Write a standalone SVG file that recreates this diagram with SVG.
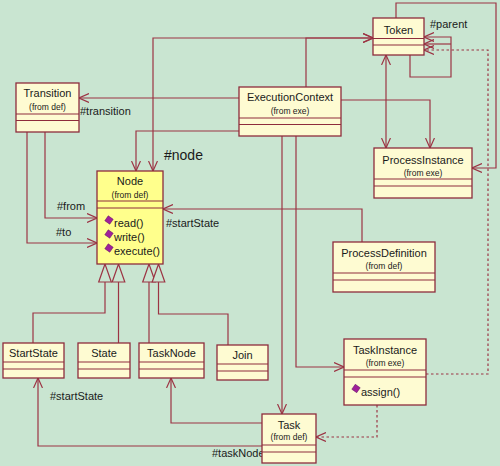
<svg xmlns="http://www.w3.org/2000/svg" width="500" height="466" viewBox="0 0 500 466">
<defs>
<style>
.box{fill:#fefbd2;stroke:#8e2c3c;stroke-width:1.3}
.node{fill:#ffff8c;stroke:#8e2c3c;stroke-width:1.3}
.sep{stroke:#8e2c3c;stroke-width:1.2}
.c{fill:none;stroke:#9c3444;stroke-width:1.2}
.d{fill:none;stroke:#9c3444;stroke-width:1.2;stroke-dasharray:2.5,2.5}
.tri{fill:#c9e5d1;stroke:#9c3444;stroke-width:1.2}
text{font-family:"Liberation Sans",Arial,sans-serif;fill:#1a1a1a}
.n{font-size:11px;text-anchor:middle}
.s{font-size:8.5px;text-anchor:middle}
.l{font-size:11px}
.m{font-size:11px}
.dia{fill:#a0209a;stroke:#601060;stroke-width:0.5}
</style>
<marker id="a" viewBox="0 0 10 10" refX="10" refY="5" markerWidth="10" markerHeight="10" markerUnits="userSpaceOnUse" orient="auto-start-reverse">
<path d="M0,0.5 L10,5 L0,9.5" fill="none" stroke="#9c3444" stroke-width="1.2"/>
</marker>
</defs>
<rect width="500" height="466" fill="#c9e5d1"/>
<g id="connectors">
<path class="c" d="M239,98 H79" marker-end="url(#a)"/>
<path class="c" d="M153,171 V38 H373" marker-start="url(#a)" marker-end="url(#a)"/>
<path class="c" d="M306,87 V38 H373" marker-end="url(#a)"/>
<path class="c" d="M239,131 H136 V171" marker-end="url(#a)"/>
<path class="c" d="M45,132 V218 H97" marker-end="url(#a)"/>
<path class="c" d="M27,132 V243 H97" marker-end="url(#a)"/>
<path class="c" d="M362,242 V209 H163" marker-end="url(#a)"/>
<path class="c" d="M341,100 H430 V148" marker-end="url(#a)"/>
<path class="c" d="M386,55 V148" marker-start="url(#a)" marker-end="url(#a)"/>
<path class="c" d="M396,18 V3 H496 V168 H472" marker-end="url(#a)"/>
<path class="c" d="M410,55 V77 H451 V37 H424" marker-end="url(#a)"/>
<path class="c" d="M451,44 H424" marker-end="url(#a)"/>
<path class="d" d="M426,374 H488 V50 H424" marker-end="url(#a)"/>
<path class="d" d="M377,405 V437 H316" marker-end="url(#a)"/>
<path class="c" d="M282,136 V414" marker-end="url(#a)"/>
<path class="c" d="M296,136 V367 H344" marker-end="url(#a)"/>
<path class="c" d="M262,423 H171 V378" marker-end="url(#a)"/>
<path class="c" d="M262,446 H38 V378" marker-end="url(#a)"/>
<path class="c" d="M105,282 V313 H33 V343"/>
<path class="c" d="M118.5,282 V343"/>
<path class="c" d="M149,282 V343"/>
<path class="c" d="M158.5,282 V314 H228 V345"/>
<polygon class="tri" points="105,264 98.7,282 111.3,282"/>
<polygon class="tri" points="118.5,264 112.2,282 124.8,282"/>
<polygon class="tri" points="149,264 142.7,282 155.3,282"/>
<polygon class="tri" points="158.5,264 152.2,282 164.8,282"/>
<text class="l" x="80" y="115">#transition</text>
<text x="164" y="160" style="font-size:14px">#node</text>
<text class="l" x="57" y="210">#from</text>
<text class="l" x="56" y="236">#to</text>
<text class="l" x="166" y="227">#startState</text>
<text class="l" x="430" y="28">#parent</text>
<text class="l" x="50" y="400">#startState</text>
<text class="l" x="212" y="457">#taskNode</text>
</g>
<g id="Transition">
<rect class="box" x="16" y="83" width="63" height="49"/>
<line class="sep" x1="16" y1="114" x2="79" y2="114"/>
<line class="sep" x1="16" y1="120.5" x2="79" y2="120.5"/>
<text class="n" x="47.5" y="97">Transition</text>
<text class="s" x="47.5" y="110">(from def)</text>
</g>
<g id="Token">
<rect class="box" x="373" y="18" width="51" height="37"/>
<line class="sep" x1="373" y1="38.5" x2="424" y2="38.5"/>
<line class="sep" x1="373" y1="45" x2="424" y2="45"/>
<text class="n" x="398.5" y="33.5">Token</text>
</g>
<g id="ExecutionContext">
<rect class="box" x="239" y="87" width="102" height="49"/>
<line class="sep" x1="239" y1="118" x2="341" y2="118"/>
<line class="sep" x1="239" y1="124.5" x2="341" y2="124.5"/>
<text class="n" x="290" y="101">ExecutionContext</text>
<text class="s" x="290" y="114">(from exe)</text>
</g>
<g id="Node">
<rect class="node" x="97" y="171" width="66" height="93"/>
<line class="sep" x1="97" y1="201" x2="163" y2="201"/>
<line class="sep" x1="97" y1="208" x2="163" y2="208"/>
<text class="n" x="130" y="185">Node</text>
<text class="s" x="130" y="198">(from def)</text>
<rect class="dia" x="106" y="217" width="6" height="6" transform="rotate(35 109 220)"/>
<text class="m" x="114" y="227">read()</text>
<rect class="dia" x="106" y="231" width="6" height="6" transform="rotate(35 109 234)"/>
<text class="m" x="114" y="241">write()</text>
<rect class="dia" x="106" y="245" width="6" height="6" transform="rotate(35 109 248)"/>
<text class="m" x="114" y="255">execute()</text>
</g>
<g id="ProcessInstance">
<rect class="box" x="374" y="148" width="98" height="50"/>
<line class="sep" x1="374" y1="179" x2="472" y2="179"/>
<line class="sep" x1="374" y1="186" x2="472" y2="186"/>
<text class="n" x="423" y="163.5">ProcessInstance</text>
<text class="s" x="423" y="176">(from exe)</text>
</g>
<g id="ProcessDefinition">
<rect class="box" x="333" y="242" width="102" height="50"/>
<line class="sep" x1="333" y1="273" x2="435" y2="273"/>
<line class="sep" x1="333" y1="280" x2="435" y2="280"/>
<text class="n" x="384" y="257">ProcessDefinition</text>
<text class="s" x="384" y="269">(from def)</text>
</g>
<g id="StartState">
<rect class="box" x="3" y="343" width="61" height="35"/>
<line class="sep" x1="3" y1="362" x2="64" y2="362"/>
<line class="sep" x1="3" y1="369" x2="64" y2="369"/>
<text class="n" x="33.5" y="357">StartState</text>
</g>
<g id="State">
<rect class="box" x="78" y="343" width="52" height="35"/>
<line class="sep" x1="78" y1="362" x2="130" y2="362"/>
<line class="sep" x1="78" y1="369" x2="130" y2="369"/>
<text class="n" x="104" y="357">State</text>
</g>
<g id="TaskNode">
<rect class="box" x="139" y="343" width="65" height="35"/>
<line class="sep" x1="139" y1="362" x2="204" y2="362"/>
<line class="sep" x1="139" y1="369" x2="204" y2="369"/>
<text class="n" x="171.5" y="357">TaskNode</text>
</g>
<g id="Join">
<rect class="box" x="217" y="345" width="51" height="35"/>
<line class="sep" x1="217" y1="364" x2="268" y2="364"/>
<line class="sep" x1="217" y1="371" x2="268" y2="371"/>
<text class="n" x="242.5" y="359">Join</text>
</g>
<g id="TaskInstance">
<rect class="box" x="344" y="339" width="82" height="66"/>
<line class="sep" x1="344" y1="370" x2="426" y2="370"/>
<line class="sep" x1="344" y1="377" x2="426" y2="377"/>
<text class="n" x="385" y="354">TaskInstance</text>
<text class="s" x="385" y="366">(from exe)</text>
<rect class="dia" x="353" y="385.5" width="6" height="6" transform="rotate(35 356 388.5)"/>
<text class="m" x="361" y="396">assign()</text>
</g>
<g id="Task">
<rect class="box" x="262" y="414" width="54" height="49"/>
<line class="sep" x1="262" y1="445" x2="316" y2="445"/>
<line class="sep" x1="262" y1="452" x2="316" y2="452"/>
<text class="n" x="289" y="429">Task</text>
<text class="s" x="289" y="440">(from def)</text>
</g>
</svg>
